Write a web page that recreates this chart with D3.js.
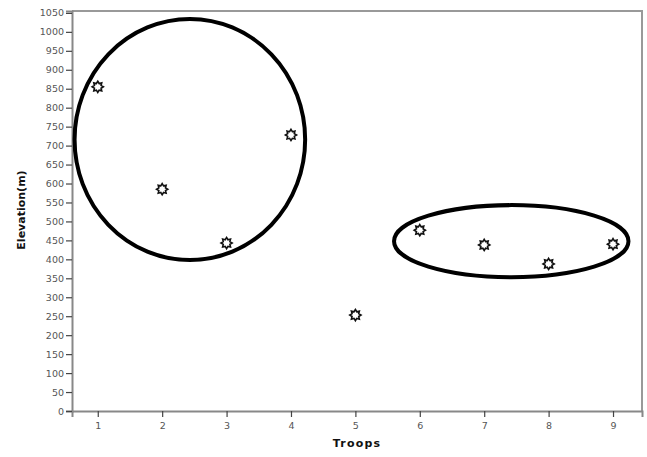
<!DOCTYPE html>
<html>
<head>
<meta charset="utf-8">
<script src="https://cdn.jsdelivr.net/npm/d3@7"></script>
<style>
  body { margin: 0; background: #fff; }
  svg { display: block; }
  .tick text { font-family: "DejaVu Sans", sans-serif; font-size: 9.5px; fill: #555; }
  .axis-title { font-family: "DejaVu Sans", sans-serif; font-size: 11px; font-weight: bold; fill: #111; }
</style>
</head>
<body>
<svg id="chart" width="647" height="457"></svg>
<script>
// troop number and elevation
const troops = [1, 2, 3, 4, 5, 6, 7, 8, 9];
const elevation = [855, 585, 443, 728, 253, 477, 438, 388, 440];
const yTicks = d3.range(0, 1051, 50);

// the two hand-drawn groupings, in data units
const groups = [
  { cx: 2.43, cy: 716, rx: 1.79, ry: 318 },
  { cx: 7.42, cy: 448, rx: 1.82, ry: 95 }
];

const svg = d3.select('#chart');
const area = { left: 72, right: 642, top: 11, bottom: 411 };

const xScale = d3.scaleLinear().domain([0.6, 9.45]).range([area.left, area.right]);
const yScale = d3.scaleLinear().domain([0, 1055]).range([area.bottom, area.top]);

// frame (top + right)
svg.append('path')
  .attr('d', `M${area.left},${area.top}H${area.right}V${area.bottom}`)
  .attr('fill', 'none')
  .attr('stroke', '#999')
  .attr('stroke-width', 2);

// axes
const xAxis = svg.append('g')
  .attr('transform', `translate(0, ${area.bottom})`)
  .call(d3.axisBottom(xScale).tickValues(troops).tickSize(6).tickPadding(5).tickFormat(d3.format('d')));

const yAxis = svg.append('g')
  .attr('transform', `translate(${area.left}, 0)`)
  .call(d3.axisLeft(yScale).tickValues(yTicks).tickSize(6).tickPadding(2).tickFormat(d3.format('d')));

[xAxis, yAxis].forEach((g) => {
  g.select('.domain').attr('stroke', '#888').attr('stroke-width', 2);
  g.selectAll('.tick line').attr('stroke', '#444').attr('stroke-width', 1.2);
});

// ellipses
svg.append('g')
  .selectAll('ellipse')
  .data(groups)
  .join('ellipse')
  .attr('cx', (d) => xScale(d.cx))
  .attr('cy', (d) => yScale(d.cy))
  .attr('rx', (d) => xScale(d.cx + d.rx) - xScale(d.cx))
  .attr('ry', (d) => yScale(d.cy - d.ry) - yScale(d.cy))
  .attr('fill', 'none')
  .attr('stroke', '#000')
  .attr('stroke-width', 4);

// sunburst markers
const starPoints = d3.range(16).map((i) => {
  const a = (i * Math.PI) / 8;
  const r = i % 2 === 0 ? 5.6 : 3.6;
  return [r * Math.sin(a), -r * Math.cos(a)];
});
const starPath = d3.line()(starPoints) + 'Z';

svg.append('g')
  .selectAll('path')
  .data(troops.map((t, i) => ({ t, e: elevation[i] })))
  .join('path')
  .attr('d', starPath)
  .attr('transform', (d) => `translate(${xScale(d.t)}, ${yScale(d.e)})`)
  .attr('fill', '#fff')
  .attr('stroke', '#111')
  .attr('stroke-width', 1.6);

// axis titles
svg.append('text')
  .attr('class', 'axis-title')
  .attr('x', 357)
  .attr('y', 447)
  .attr('text-anchor', 'middle')
  .attr('letter-spacing', 1.2)
  .text('Troops');

svg.append('text')
  .attr('class', 'axis-title')
  .attr('transform', 'translate(25, 210) rotate(-90)')
  .attr('text-anchor', 'middle')
  .text('Elevation(m)');
</script>
</body>
</html>
